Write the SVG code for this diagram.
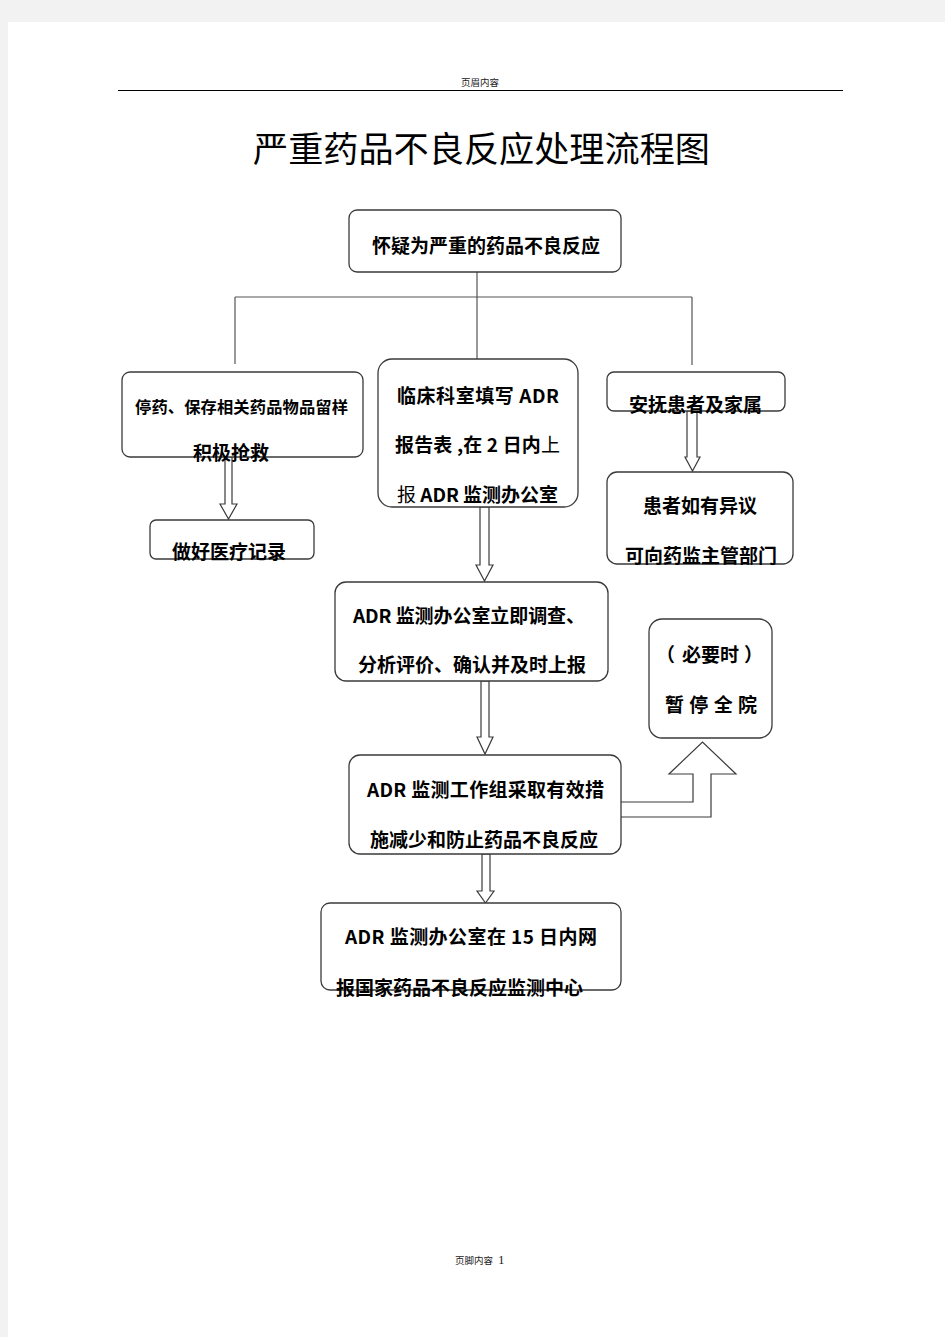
<svg xmlns="http://www.w3.org/2000/svg" width="945" height="1337" viewBox="0 0 945 1337">
<style>
.box{fill:#fff;stroke:#3a3a3a;stroke-width:1.3}
.t{font-family:"Noto Sans CJK SC","Noto Sans",sans-serif;font-weight:bold;font-size:19px;fill:#000}
.n{font-weight:normal}
.ln{fill:none;stroke:#555;stroke-width:1.2}
.ar{fill:#fff;stroke:#3a3a3a;stroke-width:1.2;stroke-linejoin:miter}
.hf{font-family:"Noto Sans CJK SC","Noto Sans",sans-serif;font-size:9.5px;fill:#222}
</style>
<rect x="0" y="0" width="945" height="1337" fill="#f2f2f2"/>
<rect x="8" y="22" width="937" height="1315" fill="#fff"/>
<g id="header">
<text class="hf" x="461" y="86">页眉内容</text>
<line x1="118" y1="90.5" x2="843" y2="90.5" stroke="#000" stroke-width="1.2"/>
</g>
<g id="title">
<text x="253" y="162" textLength="457" lengthAdjust="spacingAndGlyphs" style="font-family:'Noto Sans CJK SC',sans-serif;font-size:35px;font-weight:normal;fill:#000">严重药品不良反应处理流程图</text>
</g>
<g id="connectors">
<path class="ln" d="M477,272 V359 M235,297 H692 M235,297 V364 M692,297 V365"/>
<path class="ar" d="M225,457 V504 H220 L228.5,519 L237,504 H232 V457 Z"/>
<path class="ar" d="M480,507 V565 H476 L484.5,581 L493,565 H489 V507 Z"/>
<path class="ar" d="M687,411 V457 H685 L692.5,471 L700,457 H697 V411 Z"/>
<path class="ar" d="M481,681 V737 H477 L485,754 L493,737 H489 V681 Z"/>
<path class="ar" d="M482,854 V891 H477 L485.5,903 L494,891 H490 V854 Z"/>
<path class="ar" d="M621,802 H693 V774 H669 L702.5,742 L736,774 H711 V817 H621"/>
</g>
<g id="n1">
<rect class="box" x="349" y="210" width="272" height="62" rx="8"/>
<text class="t" x="372" y="253" textLength="228">怀疑为严重的药品不良反应</text>
</g>
<g id="n2">
<rect class="box" x="122" y="372" width="241" height="85" rx="8"/>
<text class="t" x="135" y="413" style="font-size:16.3px" textLength="213">停药、保存相关药品物品留样</text>
<text class="t" x="193" y="460">积极抢救</text>
</g>
<g id="n3">
<rect class="box" x="378" y="359" width="200" height="148" rx="14"/>
<text class="t" x="397" y="403" textLength="162">临床科室填写 ADR</text>
<text class="t" x="395" y="452" textLength="165">报告表 ,在 2 日内<tspan class="n">上</tspan></text>
<text class="t" x="397" y="502" textLength="161"><tspan class="n">报</tspan> ADR 监测办公室</text>
</g>
<g id="n4">
<rect class="box" x="607" y="372" width="178" height="39" rx="7"/>
<text class="t" x="629" y="412">安抚患者及家属</text>
</g>
<g id="n5">
<rect class="box" x="150" y="520" width="164" height="39" rx="6"/>
<text class="t" x="172" y="559">做好医疗记录</text>
</g>
<g id="n6">
<rect class="box" x="607" y="472" width="186" height="92" rx="10"/>
<text class="t" x="643" y="513">患者如有异议</text>
<text class="t" x="625" y="563">可向药监主管部门</text>
</g>
<g id="n7">
<rect class="box" x="335" y="582" width="273" height="99" rx="11"/>
<text class="t" x="353" y="623" textLength="232">ADR 监测办公室立即调查、</text>
<text class="t" x="358" y="672">分析评价、确认并及时上报</text>
</g>
<g id="n8">
<rect class="box" x="649" y="619" width="123" height="119" rx="13"/>
<text class="t" y="662"><tspan x="656">（</tspan><tspan x="682">必要时</tspan><tspan x="744">）</tspan></text>
<text class="t" x="665" y="712" textLength="92">暂 停 全 院</text>
</g>
<g id="n9">
<rect class="box" x="349" y="755" width="272" height="99" rx="11"/>
<text class="t" x="367" y="797" textLength="237">ADR 监测工作组采取有效措</text>
<text class="t" x="370" y="847">施减少和防止药品不良反应</text>
</g>
<g id="n10">
<rect class="box" x="321" y="903" width="300" height="87" rx="9"/>
<text class="t" x="345" y="944" textLength="252">ADR 监测办公室在 15 日内网</text>
<text class="t" x="336" y="995">报国家药品不良反应监测中心</text>
</g>
<g id="footer">
<text class="hf" x="455" y="1264">页脚内容</text>
<text x="498" y="1264" style="font-family:'Liberation Serif',serif;font-size:13px;fill:#222">1</text>
</g>
</svg>
